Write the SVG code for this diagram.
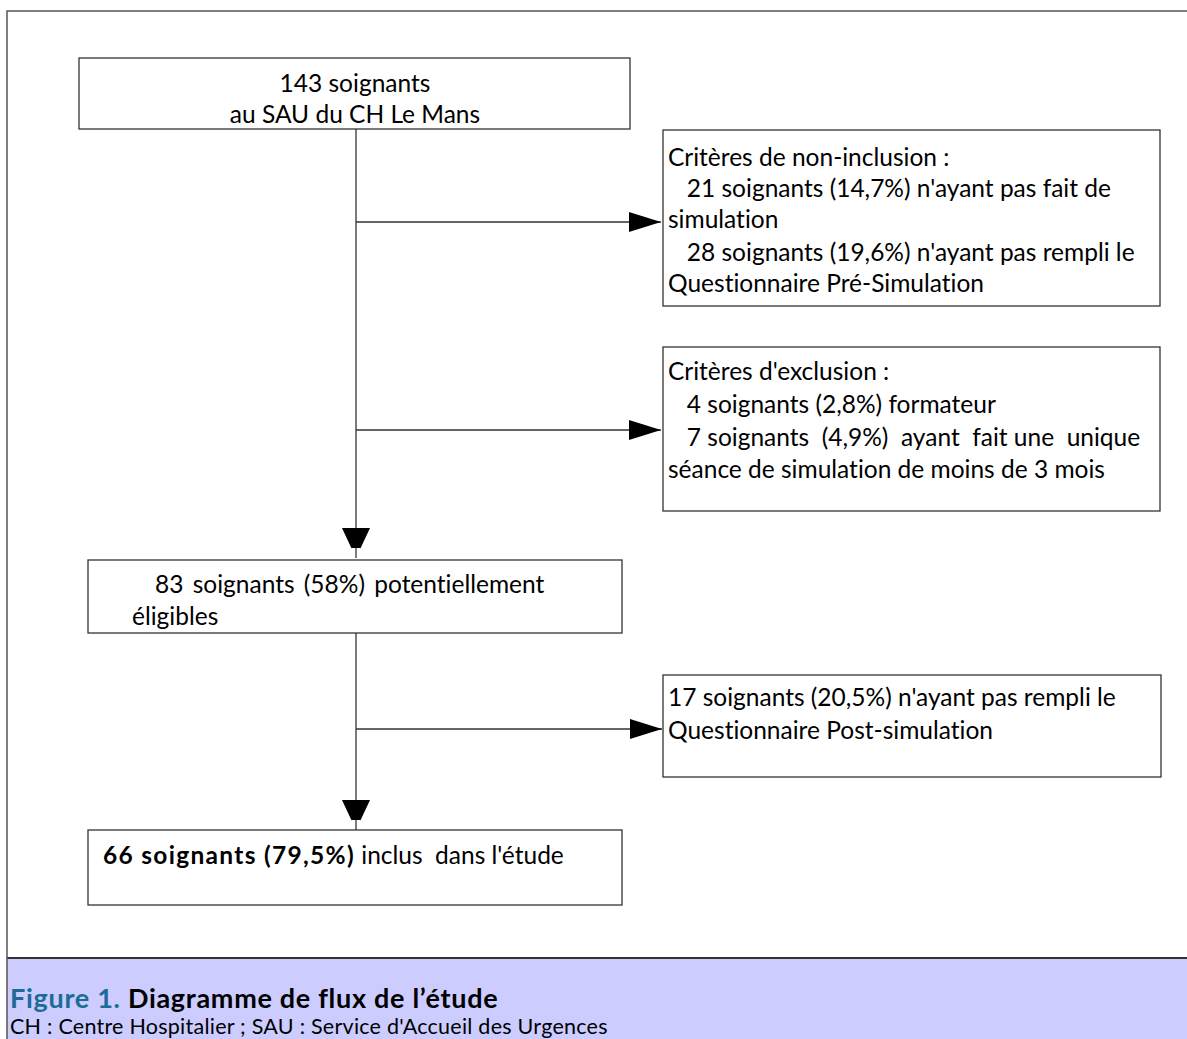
<svg xmlns="http://www.w3.org/2000/svg" width="1187" height="1039" viewBox="0 0 1187 1039">
<style>
.box{fill:#fff;stroke:#333;stroke-width:1.3}
.t{font-family:Lato,"Liberation Sans",sans-serif;font-size:24.5px;fill:#000;font-variant-ligatures:none}
.b{font-weight:bold;letter-spacing:1.3px}
.ln{stroke:#333;stroke-width:1.3;fill:none}
.cap{font-family:Lato,"Liberation Sans",sans-serif;font-variant-ligatures:none}
</style>
<defs>
<marker id="ah" markerWidth="32" markerHeight="20" refX="32" refY="10" orient="auto" markerUnits="userSpaceOnUse">
<path d="M0,0 L32,10 L0,20 Z" fill="#000"/>
</marker>
<marker id="av" markerWidth="20" markerHeight="30" refX="30" refY="14" orient="auto" markerUnits="userSpaceOnUse">
<path d="M0,0 L30,14 L0,28 Z" fill="#000"/>
</marker>
</defs>
<rect x="0" y="0" width="1187" height="1039" fill="#fff"/>
<rect x="7" y="958" width="1180" height="81" fill="#ccccff"/>
<line x1="7" y1="958" x2="1187" y2="958" stroke="#333" stroke-width="2"/>
<path d="M1187,11 H7 V1039" stroke="#555" stroke-width="1.5" fill="none"/>
<g id="connectors">
<line class="ln" x1="356" y1="129" x2="356" y2="558" marker-end="url(#av)"/>
<line class="ln" x1="356" y1="222" x2="661" y2="222" marker-end="url(#ah)"/>
<line class="ln" x1="356" y1="430" x2="661" y2="430" marker-end="url(#ah)"/>
<line class="ln" x1="356" y1="633" x2="356" y2="830" marker-end="url(#av)"/>
<line class="ln" x1="356" y1="729" x2="662" y2="729" marker-end="url(#ah)"/>
</g>
<g id="n1">
<rect class="box" x="79" y="58" width="551" height="71"/>
<text class="t" x="355" y="92" text-anchor="middle">143 soignants</text>
<text class="t" x="355" y="123" text-anchor="middle">au SAU du CH Le Mans</text>
</g>
<g id="n2">
<rect class="box" x="663" y="130" width="497" height="176"/>
<text class="t" x="668" y="166">Critères de non-inclusion :</text>
<text class="t" x="668" y="197" xml:space="preserve">   21 soignants (14,7%) n'ayant pas fait de</text>
<text class="t" x="668" y="228">simulation</text>
<text class="t" x="668" y="261" xml:space="preserve">   28 soignants (19,6%) n'ayant pas rempli le</text>
<text class="t" x="668" y="292">Questionnaire Pré-Simulation</text>
</g>
<g id="n3">
<rect class="box" x="663" y="347" width="497" height="164"/>
<text class="t" x="668" y="380">Critères d'exclusion :</text>
<text class="t" x="668" y="413" xml:space="preserve">   4 soignants (2,8%) formateur</text>
<text class="t" x="668" y="446" xml:space="preserve">   7 soignants  (4,9%)  ayant  fait une  unique</text>
<text class="t" x="668" y="478">séance de simulation de moins de 3 mois</text>
</g>
<g id="n4">
<rect class="box" x="88" y="560" width="534" height="73"/>
<text class="t" x="155" y="593" word-spacing="3">83 soignants (58%) potentiellement</text>
<text class="t" x="132" y="625">éligibles</text>
</g>
<g id="n5">
<rect class="box" x="663" y="675" width="498" height="102"/>
<text class="t" x="668" y="706">17 soignants (20,5%) n'ayant pas rempli le</text>
<text class="t" x="668" y="739">Questionnaire Post-simulation</text>
</g>
<g id="n6">
<rect class="box" x="88" y="830" width="534" height="75"/>
<text class="t" x="103" y="864" xml:space="preserve"><tspan class="b">66 soignants (79,5%)</tspan> inclus  dans l'étude</text>
</g>
<text class="cap" x="10" y="1008" font-size="27" font-weight="bold" letter-spacing="0.7"><tspan fill="#1b6c96">Figure 1.</tspan> Diagramme de flux de l’étude</text>
<text class="cap" x="10" y="1034" font-size="21.5" letter-spacing="0.25">CH : Centre Hospitalier ; SAU : Service d'Accueil des Urgences</text>
</svg>
